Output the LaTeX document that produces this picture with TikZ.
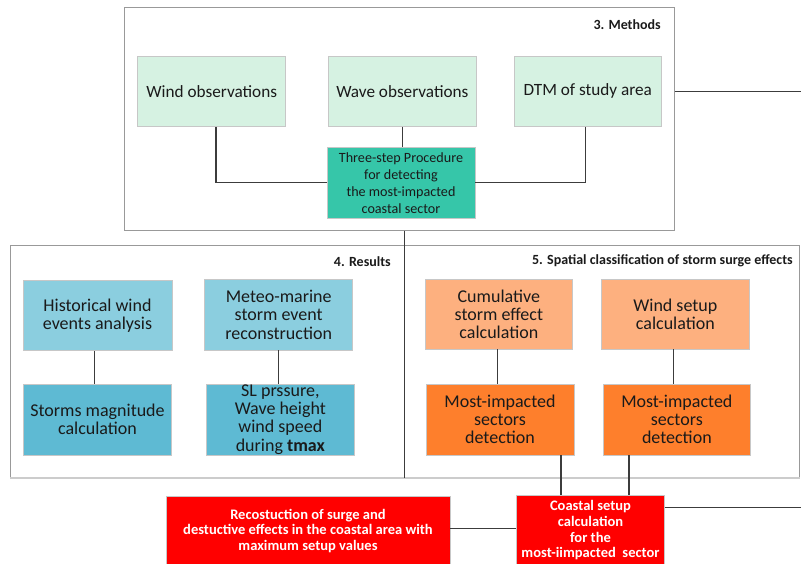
\documentclass[tikz,border=0pt]{standalone}
\usepackage{fontspec}
\setmainfont{Carlito}
\usetikzlibrary{fit}
\definecolor{greenL}{HTML}{D6F2E2}
\definecolor{teal}{HTML}{36C6A9}
\definecolor{blueL}{HTML}{8BCEDF}
\definecolor{blueD}{HTML}{5EBAD3}
\definecolor{orangeL}{HTML}{FDB07F}
\definecolor{orangeD}{HTML}{FE7F2C}
\definecolor{redB}{HTML}{FF0000}
\definecolor{conncol}{HTML}{3C3C3C}
\definecolor{txt}{HTML}{1A1A1A}
\begin{document}
\begin{tikzpicture}[x=0.75pt,y=-0.75pt,
  cont/.style={draw=black!40,line width=0.75pt,inner sep=0pt},
  sz/.style 2 args={minimum width=#1*0.75pt,minimum height=#2*0.75pt},
  boxbase/.style={draw=black!22,line width=0.6pt,inner sep=0pt,align=center,text=txt},
  obs/.style={boxbase,fill=greenL,font=\fontsize{12.9}{14}\selectfont},
  proc/.style={boxbase,fill=teal,font=\fontsize{10.6}{12.75}\selectfont},
  bl/.style={boxbase,fill=blueL,font=\fontsize{13.5}{13.7}\selectfont},
  bd/.style={boxbase,fill=blueD,font=\fontsize{13.5}{13.7}\selectfont},
  ol/.style={boxbase,fill=orangeL,font=\fontsize{13.5}{13.5}\selectfont},
  od/.style={boxbase,fill=orangeD,font=\fontsize{13.5}{13.6}\selectfont},
  rb/.style={boxbase,fill=redB,text=white,font=\bfseries\fontsize{10.9}{11.7}\selectfont},
  ttl/.style={inner sep=0pt,anchor=east,text=txt,font=\bfseries\fontsize{10.5}{12}\selectfont},
  conn/.style={draw=conncol,line width=0.8pt}]
\useasboundingbox (0,0) rectangle (801,564);
\clip (0,0) rectangle (801,564);
\fill[white] (0,0) rectangle (801,564);

% containers
\node[cont,fit={(124,7.5)(674,230)}] (methods) {};
\node[cont,fit={(10.7,245)(404.5,477.3)}] (res) {};
\node[cont,fit={(404.5,245)(799,477.3)}] (spat) {};
\draw[draw=black!20,line width=1.1pt] (res.south west) -- (spat.south east);

% titles
\node[ttl] (t3) at (661,25) {3. Methods};
\node[ttl] (t4) at (391,261.7) {4. Results};
\node[ttl] (t5) at (793,260.7) {5. Spatial classification of storm surge effects};

% methods boxes
\node[obs,sz={148}{70.5}] (wind) at (211.7,91.25) {Wind observations};
\node[obs,sz={147.3}{70.5}] (wave) at (402.35,91.25) {Wave observations};
\node[obs,sz={147.5}{70.5}] (dtm) at (587.75,91.25) {DTM of study area};
\node[proc,sz={148}{70.3}] (three) at (401,182.85) {Three-step Procedure\\for detecting\\the most-impacted\\coastal sector};

% results boxes
\node[bl,sz={149}{70}] (hist) at (97.5,315.5) {Historical wind\\events analysis};
\node[bl,sz={148}{70.7}] (meteo) at (278.7,314.65) {Meteo-marine\\storm event\\reconstruction};
\node[bd,sz={148.4}{71}] (storms) at (97.5,419.5) {Storms magnitude\\calculation};
\node[bd,sz={147.3}{71}] (sl) at (280.35,419.5) {SL prssure,\\Wave height\\wind speed\\during \textbf{tmax}};

% spatial boxes
\node[ol,sz={147.7}{70}] (cum) at (498.85,314) {Cumulative\\storm effect\\calculation};
\node[ol,sz={147.3}{70}] (wsetup) at (675.35,314) {Wind setup\\calculation};
\node[od,sz={148}{71}] (mi1) at (500,419.5) {Most-impacted\\sectors\\detection};
\node[od,sz={147.7}{71}] (mi2) at (676.85,419.5) {Most-impacted\\sectors\\detection};

% bottom red boxes (cut off by the lower edge)
\node[rb,sz={284}{68.3}] (recos) at (308,530.85) {Recostuction of surge and\\destuctive effects in the coastal area with\\maximum setup values};
\node[rb,sz={147.6}{69.3}] (coastal) at (590.5,530.35) {Coastal setup\\calculation\\for the\\most-iimpacted~ sector};

% connectors
\coordinate (e1) at (801,92.3);
\coordinate (m1) at (404.4,0);
\coordinate (c1) at (561,0);
\coordinate (c2) at (629,0);
\coordinate (e2) at (801,507.3);
\coordinate (h1) at (0,528.3);

\draw[conn] ([xshift=3.2pt]wind.south) |- (three.west);
\draw[conn] (wave.south) -- (wave.south |- three.north);
\draw[conn] ([xshift=-1.9pt]dtm.south) |- (three.east);
\draw[conn] (methods.east |- dtm.east) -- (e1 |- dtm.east);
\draw[conn] (methods.south -| m1) -- (res.south -| m1);

\draw[conn] ([xshift=-2pt]hist.south) -- ([xshift=-2pt]storms.north);
\draw[conn] (meteo.south) -- (meteo.south |- sl.north);
\draw[conn] ([xshift=-1.3pt]cum.south) -- ([xshift=-1.3pt]cum.south |- mi1.north);
\draw[conn] ([xshift=-1.7pt]wsetup.south) -- ([xshift=-1.7pt]wsetup.south |- mi2.north);

\draw[conn] (mi1.south -| c1) -- (coastal.north -| c1);
\draw[conn] (mi2.south -| c2) -- (coastal.north -| c2);
\draw[conn] (recos.east |- h1) -- (coastal.west |- h1);
\draw[conn] (coastal.east |- e2) -- (e2);
\end{tikzpicture}
\end{document}
